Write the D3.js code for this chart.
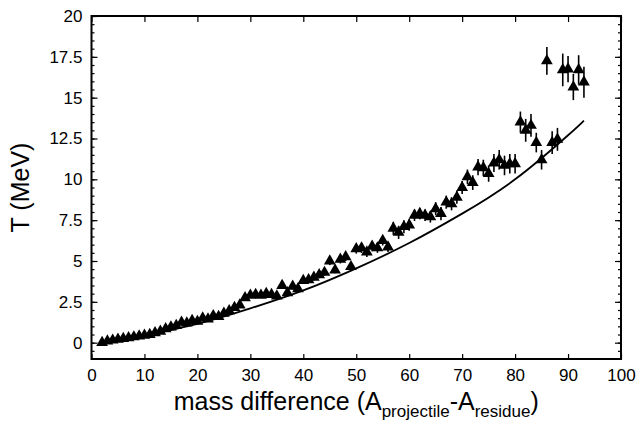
<!DOCTYPE html>
<html>
<head>
<meta charset="utf-8">
<script src="https://cdn.jsdelivr.net/npm/d3@7"></script>
<style>
  html, body { margin: 0; padding: 0; background: #fff; }
  svg { display: block; font-family: "Liberation Sans", Arial, Helvetica, sans-serif; }
</style>
</head>
<body>
<svg id="chart" width="637" height="430"></svg>
<script>
// ---- data ----
const massDiff = [2,3,4,5,6,7,8,9,10,11,12,13,14,15,16,17,18,19,20,21,22,23,24,25,26,27,28,29,30,
  31,32,33,34,35,36,37,38,39,40,41,42,43,44,45,46,47,48,49,50,51,52,53,54,55,56,57,58,59,60,
  61,62,63,64,65,66,67,68,69,70,71,72,73,74,75,76,77,78,79,80,81,82,83,84,85,86,87,88,89,90,91,92,93];
const temperature = [0.0,0.1,0.15,0.2,0.25,0.3,0.35,0.4,0.45,0.5,0.6,0.7,0.85,0.95,1.05,1.25,1.2,1.35,1.3,
  1.5,1.45,1.65,1.6,1.8,1.95,2.15,2.3,2.75,2.9,
  2.95,2.9,3.0,2.95,2.85,3.5,3.05,3.45,3.3,3.8,3.85,4.0,4.15,4.3,5.0,4.45,5.1,5.25,4.65,5.75,
  5.8,5.55,5.9,5.8,6.25,5.85,7.0,6.75,7.1,7.2,
  7.8,7.9,7.8,7.7,8.2,7.9,8.6,8.5,8.9,9.5,10.15,9.8,10.75,10.7,10.35,11.0,11.2,10.85,10.95,10.95,
  13.5,13.0,13.3,12.25,11.2,17.25,12.25,12.45,16.7,16.75,15.65,16.7,15.95];
const tError = [0.1,0.1,0.1,0.1,0.1,0.1,0.1,0.1,0.1,0.1,0.1,0.1,0.1,0.1,0.1,0.1,0.1,0.1,0.1,
  0.1,0.1,0.1,0.1,0.1,0.1,0.1,0.1,0.1,0.15,
  0.15,0.15,0.15,0.15,0.15,0.2,0.15,0.2,0.2,0.2,0.2,0.2,0.2,0.2,0.25,0.2,0.25,0.25,0.25,0.3,
  0.3,0.3,0.3,0.3,0.3,0.3,0.4,0.4,0.4,0.35,
  0.35,0.35,0.35,0.35,0.4,0.4,0.4,0.4,0.4,0.4,0.45,0.45,0.5,0.5,0.5,0.55,0.6,0.6,0.6,0.6,
  0.65,0.7,0.7,0.6,0.6,0.85,0.7,0.7,1.0,0.8,0.8,0.9,0.95];
const curveA = [2, 10, 20, 30, 40, 50, 60, 70, 80, 90, 93];
const curveT = [0.05, 0.45, 1.15, 2.1, 3.2, 4.55, 6.1, 7.9, 10.0, 12.7, 13.6];
const xTicks = [0,10,20,30,40,50,60,70,80,90,100];
const yTicks = [0,2.5,5,7.5,10,12.5,15,17.5,20];
const yMinorTicks = d3.range(-0.5, 20.01, 0.5);

// ---- layout ----
const svg = d3.select("#chart");
const L = 91.5, R = 621, T = 16, B = 359;
const x = d3.scaleLinear().domain([0, 100]).range([L, R]);
const y = d3.scaleLinear().domain([-1, 20]).range([B, T]);

// curve
const curvePts = curveA.map((a, i) => [a, curveT[i]]);
svg.append("path")
  .datum(curvePts)
  .attr("fill", "none")
  .attr("stroke", "#000")
  .attr("stroke-width", 1.8)
  .attr("d", d3.line().x(d => x(d[0])).y(d => y(d[1])).curve(d3.curveNatural));

const pts = massDiff.map((a, i) => ({a, t: temperature[i], e: tError[i]}));

// error bars
svg.append("g").selectAll("line").data(pts).join("line")
  .attr("x1", d => x(d.a)).attr("x2", d => x(d.a))
  .attr("y1", d => y(d.t - d.e)).attr("y2", d => y(d.t + d.e))
  .attr("stroke", "#000").attr("stroke-width", 1.6);

// triangles
const tri = d3.symbol().type(d3.symbolTriangle).size(60);
svg.append("g").selectAll("path").data(pts).join("path")
  .attr("d", tri)
  .attr("transform", d => `translate(${x(d.a)},${y(d.t)})`)
  .attr("fill", "#000");

// ---- axes ----
const fmt = d => String(d);
// bottom
svg.append("g").attr("transform", `translate(0,${B})`)
  .call(d3.axisBottom(x).tickValues(xTicks).tickSize(-5).tickPadding(10).tickFormat(fmt))
  .call(g => g.select(".domain").remove());
// top
svg.append("g").attr("transform", `translate(0,${T})`)
  .call(d3.axisTop(x).tickValues(xTicks).tickSize(-6).tickFormat(""))
  .call(g => g.select(".domain").remove());
// left major
svg.append("g").attr("transform", `translate(${L},0)`)
  .call(d3.axisLeft(y).tickValues(yTicks).tickSize(-6).tickPadding(9).tickFormat(fmt))
  .call(g => g.select(".domain").remove());
// left minor
svg.append("g").attr("transform", `translate(${L},0)`)
  .call(d3.axisLeft(y).tickValues(yMinorTicks).tickSize(-3).tickFormat(""))
  .call(g => g.select(".domain").remove());
// right major + minor
svg.append("g").attr("transform", `translate(${R},0)`)
  .call(d3.axisRight(y).tickValues(yTicks).tickSize(-6).tickFormat(""))
  .call(g => g.select(".domain").remove());
svg.append("g").attr("transform", `translate(${R},0)`)
  .call(d3.axisRight(y).tickValues(yMinorTicks).tickSize(-3).tickFormat(""))
  .call(g => g.select(".domain").remove());

svg.selectAll(".tick line").attr("stroke", "#000").attr("stroke-width", 1.2);
svg.selectAll(".tick text").attr("fill", "#000").attr("font-size", 17)
  .attr("font-family", "Liberation Sans, Arial, sans-serif");

// frame
svg.append("rect").attr("x", L).attr("y", T).attr("width", R - L).attr("height", B - T)
  .attr("fill", "none").attr("stroke", "#000").attr("stroke-width", 2);

// titles
const xt = svg.append("text").attr("x", (L + R) / 2).attr("y", 410)
  .attr("text-anchor", "middle").attr("font-size", 25).attr("fill", "#000");
xt.append("tspan").text("mass difference (A");
xt.append("tspan").attr("font-size", 17).attr("dy", 7).text("projectile");
xt.append("tspan").attr("dy", -7).text("-A");
xt.append("tspan").attr("font-size", 17).attr("dy", 7).text("residue");
xt.append("tspan").attr("dy", -7).text(")");

svg.append("text")
  .attr("transform", `translate(29,${(T + B) / 2}) rotate(-90)`)
  .attr("text-anchor", "middle").attr("font-size", 25).attr("fill", "#000")
  .text("T (MeV)");
</script>
</body>
</html>
